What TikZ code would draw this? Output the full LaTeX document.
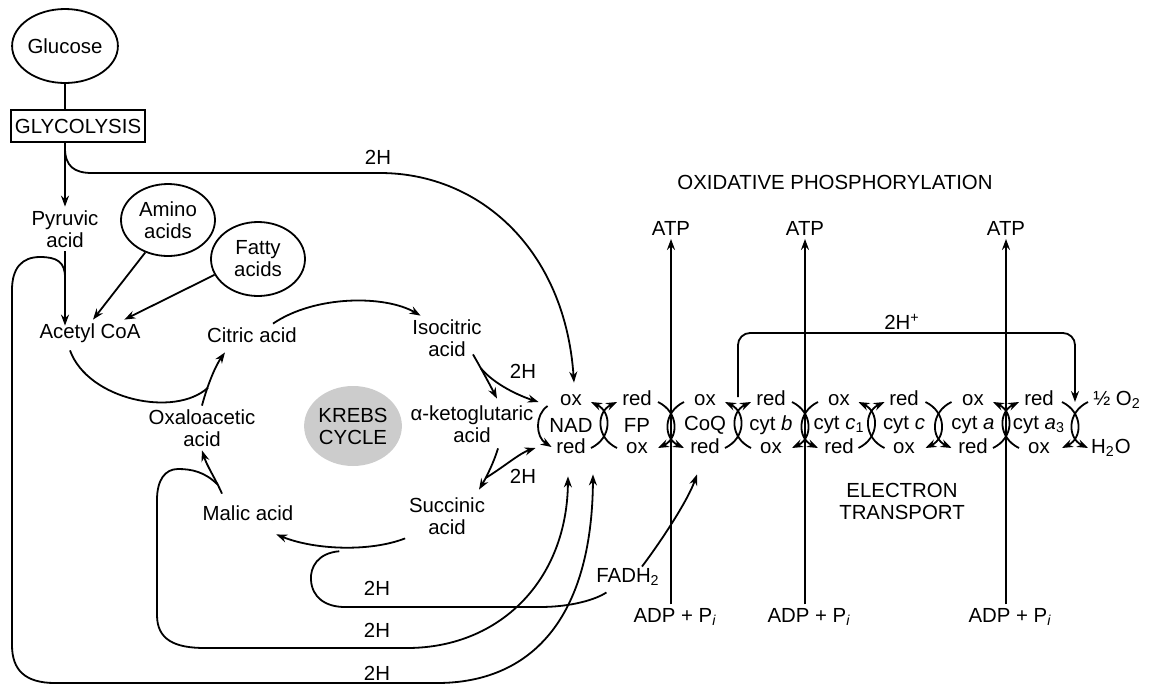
\documentclass[tikz,border=0pt]{standalone}
\usepackage{fontspec}
\setmainfont{Liberation Sans}
\usetikzlibrary{calc, arrows.meta, shapes.geometric}

\newcommand{\police}{\fontsize{10.2}{11}\selectfont}

\begin{document}
\begin{tikzpicture}[x=0.5pt, y=-0.5pt, line width=0.9pt,
  every node/.style={font=\police, inner sep=1.5pt},
  fleche/.style={-{Stealth[length=5.5pt, width=4pt]}},
  bulle/.style={ellipse, draw, inner sep=0pt, align=center},
  deux/.style={align=center},
  petit/.style={text height=7.5pt, text depth=2pt}]

  \useasboundingbox (0,0) rectangle (1153,687);

  % --- Paramètres de la chaîne respiratoire ---
  \pgfmathsetmacro{\yrow}{425}  % ligne des transporteurs
  \pgfmathsetmacro{\dy}{23}     % demi-hauteur des arcs

  % --- Glycolyse ---
  \node[bulle, minimum width=50pt, minimum height=37pt] (glucose) at (65,46) {Glucose};
  \node[draw, inner xsep=2pt, minimum height=16pt] (glyco) at (78,126) {GLYCOLYSIS};
  \node[deux] (pyruvic) at (65,229) {Pyruvic\\acid};
  \node[bulle, minimum width=47pt, minimum height=36pt] (amino) at (168,220) {Amino\\acids};
  \node[bulle, minimum width=47pt, minimum height=37pt] (fatty) at (258,259) {Fatty\\acids};
  \node (acetyl) at (90,333) {Acetyl CoA};

  % --- Cycle de Krebs ---
  \node (citric) at (252,335) {Citric acid};
  \node[deux] (isocitric) at (447,338) {Isocitric\\acid};
  \node[deux] (aketo) at (472,424) {α-ketoglutaric\\acid};
  \node[deux] (succinic) at (447,516) {Succinic\\acid};
  \node (malic) at (248,513) {Malic acid};
  \node[deux] (oxalo) at (202,428) {Oxaloacetic\\acid};
  \node[ellipse, fill=gray!40, align=center, inner sep=0pt,
        minimum width=48pt, minimum height=40pt] (krebs) at (353,426) {KREBS\\CYCLE};
  \node (fadh) at (628,577) {FADH\textsubscript{2}};

  % étiquettes 2H
  \foreach \n/\x/\y in {1/378/157, 2/523/371, 3/523/476, 4/377/588, 5/377/630, 6/377/673}
    \node (h\n) at (\x,\y) {2H};

  % --- Chaîne respiratoire ---
  \foreach \i/\x/\nom/\haut/\bas in {1/571/NAD/ox/red, 2/637/FP/red/ox, 3/705/CoQ/ox/red,
      4/771/cyt \textit{b}/red/ox, 5/839/cyt \textit{c}\textsubscript{1}/ox/red,
      6/904/cyt \textit{c}/red/ox, 7/973/cyt \textit{a}/ox/red,
      8/1039/cyt \textit{a}\textsubscript{3}/red/ox} {
    \node (car\i) at (\x,\yrow) {\nom};
    \node[petit] (top\i) at (\x,400) {\haut};
    \node[petit] (bot\i) at (\x,448) {\bas};
  }
  \node (otwo) at (1117,400) {½ O\textsubscript{2}};
  \node (eau) at (1111,448) {H\textsubscript{2}O};

  % points de croisement
  \foreach \i in {1,...,7} {
    \pgfmathtruncatemacro{\j}{\i+1}
    \coordinate (x\i) at ($(car\i)!0.5!(car\j)$);
  }
  \coordinate (x8) at ($(car8)!0.5!(eau |- car8)$);

  % arcs croisés (flèches en haut)
  \foreach \i in {1,3,5,7} {
    \draw[fleche] ($(x\i)+(-13,\dy)$) .. controls ($(x\i)+(8,13)$) and ($(x\i)+(8,-13)$) .. ($(x\i)+(-13,-\dy)$);
    \draw[fleche] ($(x\i)+(13,\dy)$) .. controls ($(x\i)+(-8,13)$) and ($(x\i)+(-8,-13)$) .. ($(x\i)+(13,-\dy)$);
  }
  % arcs croisés (flèches en bas)
  \foreach \i in {2,4,6,8} {
    \draw[fleche] ($(x\i)+(-13,-\dy)$) .. controls ($(x\i)+(8,-13)$) and ($(x\i)+(8,13)$) .. ($(x\i)+(-13,\dy)$);
    \draw[fleche] ($(x\i)+(13,-\dy)$) .. controls ($(x\i)+(-8,-13)$) and ($(x\i)+(-8,13)$) .. ($(x\i)+(13,\dy)$);
  }
  % réduction du NAD
  \draw[fleche] ($(car1.west)+(2,-19)$) .. controls ($(car1.west)+(-11,-10)$) and ($(car1.west)+(-10,12)$) .. ($(car1.west)+(6,22)$);

  % --- Phosphorylation oxydative ---
  \foreach \k/\i in {1/2, 2/4, 3/7} {
    \node (atp\k) at ($(x\i)+(0,-197)$) {ATP};
    \node (adp\k) at ($(x\i)+(4,192)$) {ADP + P\textsubscript{\itshape i}};
    \draw[fleche] (adp\k.north -| x\i) -- (atp\k.south);
  }
  \node (oxphos) at (835,182) {OXIDATIVE PHOSPHORYLATION};
  \node[deux] (etrans) at (902,501) {ELECTRON\\TRANSPORT};

  % --- 2H+ vers l'oxygène ---
  \node (hplus) at (902,322) {2H\textsuperscript{+}};
  \coordinate (brk) at (902,333);
  \draw[fleche, rounded corners=6pt] ($(x3)+(0,-28)$) |- (brk) -| ($(x8)+(0,-23)$);

  % --- Voies d'entrée ---
  \draw (glucose.south) -- (glucose.south |- glyco.north);
  \draw[fleche] (glucose.south |- glyco.south) -- (pyruvic.north) coordinate[pos=0.08] (jgly);
  \draw[fleche, shorten >=-3pt] (pyruvic.south) -- (pyruvic.south |- acetyl.north) coordinate[pos=0.38] (jpyr);
  \draw[fleche] (amino.235) -- ($(acetyl.north)+(3,0)$);
  \draw[fleche] (fatty.200) -- ($(acetyl.north east)+(-20,0)$);

  % --- Étapes du cycle ---
  \draw[fleche] (oxalo.north) .. controls (206,390) and (214,368) .. ($(citric.south)+(-27,6)$);
  \draw ($(acetyl.south)+(-20,4)$) .. controls (88,400) and (175,418) .. ($(oxalo.north)+(6,-18)$);
  \draw[fleche] ($(citric.north)+(21,0)$) .. controls (315,295) and (385,295) .. ($(isocitric.north west)+(12,0)$);
  \draw[fleche] ($(isocitric.south)+(26,-6)$) .. controls (482,370) and (490,385) .. ($(aketo.north)+(25,-3)$)
    coordinate[pos=0.3] (jiso);
  \draw[fleche] ($(aketo.south)+(26,2)$) .. controls (494,462) and (486,478) .. ($(succinic.north)+(32,-4)$)
    coordinate[pos=0.7] (jket);
  \draw[fleche] (succinic.south west) .. controls (370,552) and (315,550) .. ($(malic.south east)+(-21,10)$)
    coordinate[pos=0.52] (jsuc);
  \draw[fleche] ($(malic.north)+(-26,-8)$) .. controls (215,478) and (207,466) .. (oxalo.south)
    coordinate[pos=0.2] (jmal);

  % --- Transferts de 2H vers la chaîne ---
  \draw[fleche] (jgly) .. controls (65,166) and (74,173) .. (92,173) -- (380,173)
    .. controls (480,173) and (565,250) .. ($(top1.north)+(3,-4)$);
  \draw[fleche] (jiso) .. controls (495,385) and (520,396) .. ($(car1.west)+(-7,-23)$);
  \draw[fleche] (jket) .. controls (505,466) and (520,453) .. ($(car1.west)+(-10,23)$);
  \draw ($(jsuc)+(0,4)$) .. controls (318,553) and (310,567) .. (311,580)
    .. controls (312,597) and (325,607) .. (345,607) -- (540,607)
    .. controls (570,607) and (595,600) .. ($(fadh.south west)+(14,3)$);
  \draw[fleche] ($(fadh.north)+(14,2)$) .. controls (662,540) and (688,500) .. ($(bot3.south)+(-8,13)$);
  \draw[fleche] (jmal) .. controls (205,472) and (192,469) .. (178,469)
    .. controls (165,469) and (157,480) .. (157,500) -- (157,615)
    .. controls (157,640) and (175,648) .. (205,648) -- (407,648)
    .. controls (500,648) and (567,580) .. ($(bot1.south)+(-3,15)$);
  \draw[fleche] (jpyr) .. controls (65,262) and (57,257) .. (40,257)
    .. controls (22,257) and (12,268) .. (12,290) -- (12,645)
    .. controls (12,670) and (25,683) .. (55,683) -- (437,683)
    .. controls (530,683) and (592,620) .. ($(bot1.south)+(22,13)$);

\end{tikzpicture}
\end{document}
